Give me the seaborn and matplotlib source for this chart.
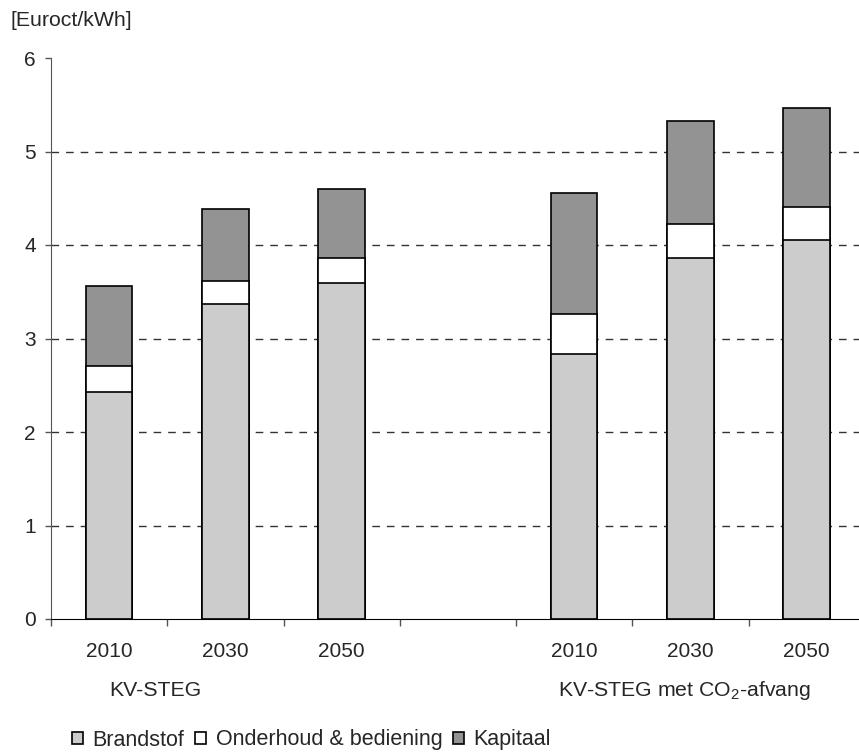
import pandas as pd
import numpy as np
import matplotlib
matplotlib.use('Agg')
import matplotlib.pyplot as plt
from matplotlib.patches import Patch
import seaborn as sns

# waarden [Euroct/kWh]
categorieen = ['KV 2010', 'KV 2030', 'KV 2050', 'leeg', 'CO2 2010', 'CO2 2030', 'CO2 2050']
jaren = ['2010', '2030', '2050', '', '2010', '2030', '2050']
brandstof = [2.43, 3.37, 3.59, 2.83, 3.86, 4.05]
onderhoud = [0.28, 0.25, 0.27, 0.43, 0.36, 0.36]
kapitaal = [0.85, 0.77, 0.74, 1.30, 1.11, 1.05]
groepen = ['KV-STEG', r'KV-STEG met CO$_\mathregular{2}$-afvang']
reeksen = ['Brandstof', 'Onderhoud & bediening', 'Kapitaal']
kleuren = ['#cccccc', '#ffffff', '#939393']

sns.set_style('white')
plt.rcParams['font.family'] = ['Liberation Sans', 'DejaVu Sans']
plt.rcParams['mathtext.fontset'] = 'custom'
plt.rcParams['mathtext.rm'] = 'Liberation Sans'

df = pd.DataFrame({
    'cat': [c for c in categorieen if c != 'leeg'],
    'brandstof': brandstof,
    'onderhoud': onderhoud,
    'kapitaal': kapitaal,
})
df['b_o'] = df['brandstof'] + df['onderhoud']
df['totaal'] = df['b_o'] + df['kapitaal']

fig = plt.figure(figsize=(8.59, 7.52), dpi=100)
ax = fig.add_axes([51 / 859, 1 - 619 / 752, 1 - 51 / 859, (619 - 58) / 752])

# gestapeld: eerst totaal, dan er overheen tekenen
for kol, kleur in zip(['totaal', 'b_o', 'brandstof'], kleuren[::-1]):
    sns.barplot(data=df, x='cat', y=kol, order=categorieen, color=kleur,
                saturation=1, width=0.4, edgecolor='black', linewidth=1.2, ax=ax)

ax.set_xlim(-0.5, 6.45)
ax.set_ylim(0, 6)
ax.set_xlabel('')
ax.set_ylabel('')

# rasterlijnen
ax.set_axisbelow(True)
ax.hlines([1, 2, 3, 4, 5], -0.5, 6.45, colors='#333333', linewidth=1.0,
          linestyles=(0, (5.5, 5)), zorder=0)

ax.set_yticks(range(7))
ax.tick_params(axis='y', left=True, length=4, width=1, pad=7, labelsize=15, color='#555555')

ax.set_xticks(np.arange(-0.5, 6, 1))
ax.set_xticklabels([])
ax.tick_params(axis='x', which='major', bottom=True, length=5, width=1, color='#555555')
ax.set_xticks([i for i, j in enumerate(jaren) if j], minor=True)
ax.set_xticklabels([j for j in jaren if j], minor=True)
ax.tick_params(axis='x', which='minor', bottom=True, length=0, pad=16.5, labelsize=15)

for s in ['top', 'right']:
    ax.spines[s].set_visible(False)
ax.spines['left'].set_color('#555555')
ax.spines['bottom'].set_color('black')

# groepslabels
trans = matplotlib.transforms.blended_transform_factory(ax.transData, fig.transFigure)
ax.text(0.0, 1 - 691 / 752, groepen[0], transform=trans, ha='left', va='center', fontsize=15.3)
ax.text(3.86, 1 - 691 / 752, groepen[1], transform=trans, ha='left', va='center', fontsize=15.3)

fig.text(11 / 859, 1 - 20 / 752, '[Euroct/kWh]', ha='left', va='center', fontsize=15.3)

handles = [Patch(facecolor=k, edgecolor='black', linewidth=1.2) for k in kleuren]
fig.legend(handles, reeksen, loc='center left', bbox_to_anchor=(72 / 859, 1 - 740 / 752),
           ncol=3, frameon=False, fontsize=15.5, handlelength=0.5, handleheight=0.5,
           handletextpad=0.45, columnspacing=0.5, borderpad=0, borderaxespad=0)

fig.savefig('out.png', dpi=100)
